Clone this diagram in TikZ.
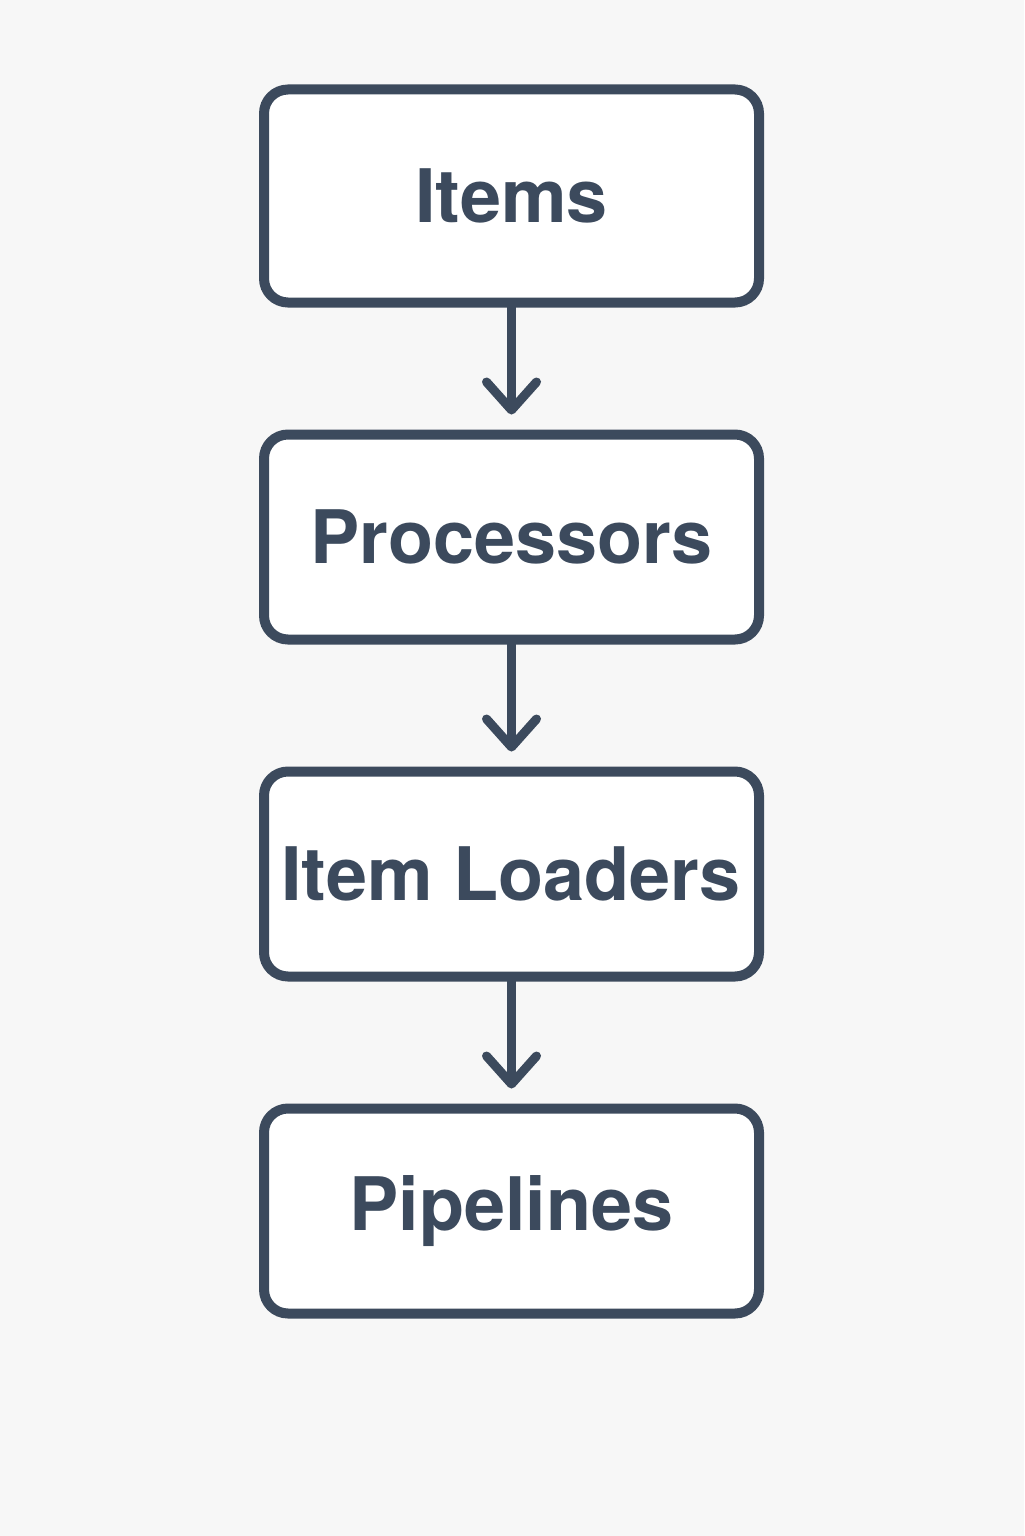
\documentclass[tikz,border=0pt]{standalone}
\usepackage{fontspec}
\setmainfont{TeX Gyre Heros}
\usetikzlibrary{positioning,arrows.meta}
\definecolor{slate}{HTML}{3C4A5D}
\definecolor{paper}{HTML}{F7F7F7}
\begin{document}
\begin{tikzpicture}[node distance=1.22cm,
    stage/.style={draw=slate, fill=white, line width=0.1cm, rounded corners=0.24cm,
      minimum width=4.95cm, minimum height=2.05cm, text=slate,
      font=\fontsize{21}{25}\selectfont\bfseries},
    flow/.style={draw=slate, line width=0.09cm, line cap=round, shorten >=0.15cm,
      -{Straight Barb[length=0.28cm, width=0.5cm, round]}}]
          \fill[paper] (0,0) rectangle (10.24,-15.36);
          \useasboundingbox (0,0) rectangle (10.24,-15.36);
          \node[stage, minimum height=2.13cm] (items) at (5.115,-1.96) {Items};
          \node[stage] (procs) [below= of items] {Processors};
          \node[stage] (loaders) [below= of procs] {\kern-0.01em Item Loaders};
          \node[stage] (pipes) [below= of loaders] {Pipelines};
          \draw[flow] (items) -- (procs);
          \draw[flow] (procs) -- (loaders);
          \draw[flow] (loaders) -- (pipes);
        \end{tikzpicture}
\end{document}
